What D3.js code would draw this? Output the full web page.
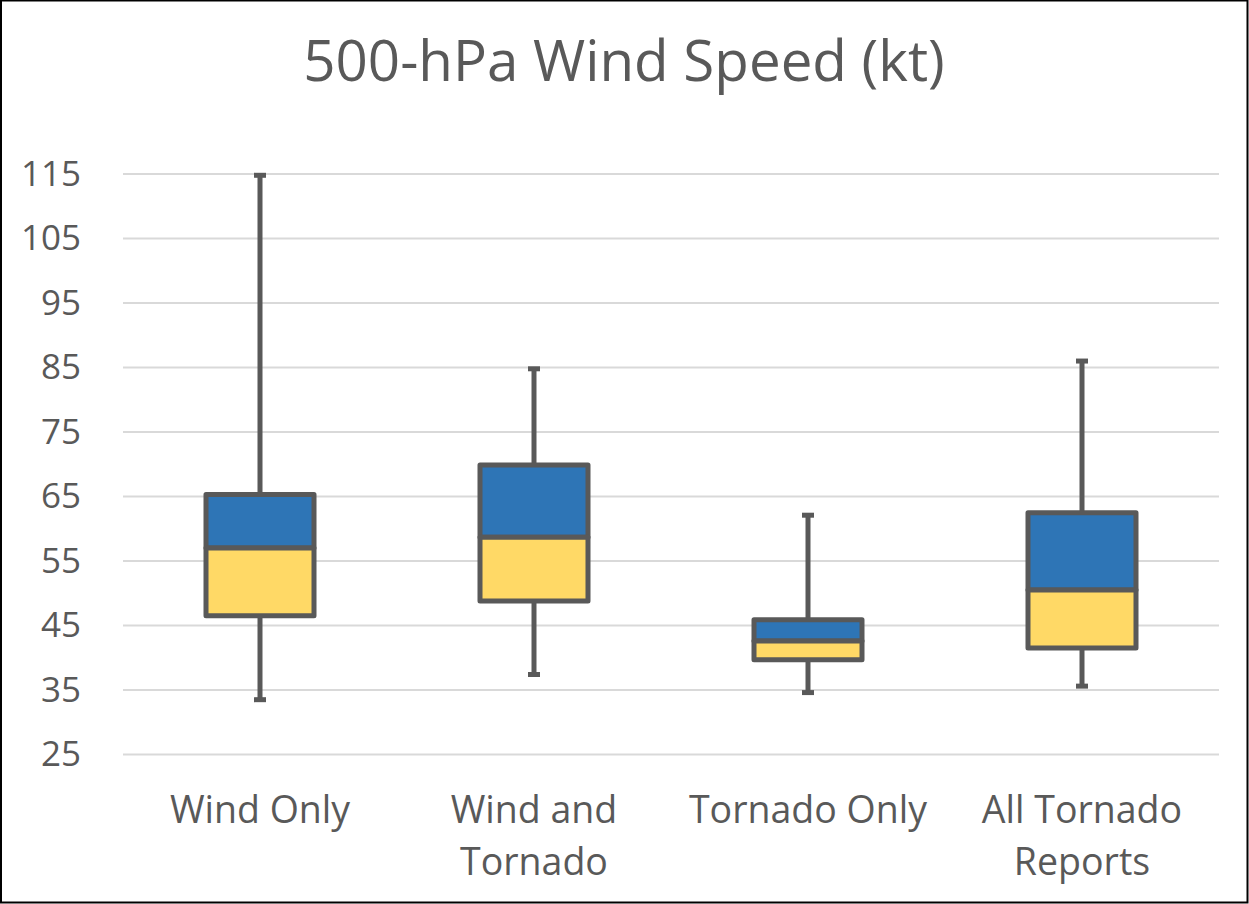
<!DOCTYPE html>
<html>
<head>
<meta charset="utf-8">
<script src="https://cdn.jsdelivr.net/npm/d3@7/dist/d3.min.js"></script>
<style>
  html, body { margin: 0; padding: 0; background: #fff; }
  svg { display: block; }
  text { font-family: "Open Sans", sans-serif; fill: #595959; }
</style>
</head>
<body>
<svg id="chart" width="1249" height="904"></svg>
<script>
// 500-hPa wind speed distributions (kt) by report type
const categories = [["Wind Only"], ["Wind and", "Tornado"], ["Tornado Only"], ["All Tornado", "Reports"]];
const whiskerMin = [33.5, 37.4, 34.6, 35.6];
const q1 = [46.5, 48.8, 39.7, 41.5];
const median = [57.0, 58.7, 42.6, 50.5];
const q3 = [65.3, 69.9, 45.9, 62.5];
const whiskerMax = [114.8, 84.8, 62.1, 86.0];
const yTicks = [25, 35, 45, 55, 65, 75, 85, 95, 105, 115];

const W = 1249, H = 904;
const margin = { left: 123, right: 30, top: 174, bottom: 149 };
const svg = d3.select("#chart");

// frame
svg.append("rect").attr("x", 1).attr("y", 0.5).attr("width", W - 2.5).attr("height", H - 2)
  .attr("fill", "#fff").attr("stroke", "#000").attr("stroke-width", 2);

const y = d3.scaleLinear().domain([25, 115]).range([H - margin.bottom - 0.5, margin.top]);
const x = d3.scaleBand().domain(d3.range(categories.length)).range([margin.left, W - margin.right]);

// gridlines
svg.append("g").selectAll("line").data(yTicks).join("line")
  .attr("x1", margin.left).attr("x2", W - margin.right)
  .attr("y1", d => y(d)).attr("y2", d => y(d))
  .attr("stroke", "#d9d9d9").attr("stroke-width", 2);

// y axis labels
const yAxis = d3.axisLeft(y).tickValues(yTicks).tickSize(0).tickPadding(0);
const gy = svg.append("g").attr("transform", "translate(81,0)").call(yAxis);
gy.select(".domain").remove();
gy.selectAll("text").attr("font-size", 35).attr("font-family", "Open Sans").attr("fill", "#595959");

// title
svg.append("text").attr("x", 624).attr("y", 81).attr("text-anchor", "middle")
  .attr("font-size", 56.5).text("500-hPa Wind Speed (kt)");

// category labels
const lab = svg.append("g").selectAll("text").data(categories).join("text")
  .attr("text-anchor", "middle").attr("font-size", 37.5)
  .attr("x", (d, i) => x(i) + x.bandwidth() / 2).attr("y", 823);
lab.selectAll("tspan").data(d => d).join("tspan")
  .attr("x", function () { return d3.select(this.parentNode).attr("x"); })
  .attr("dy", (d, j) => j === 0 ? 0 : 52).text(d => d);

// boxes
const boxW = 108, capW = 12, sw = 5, stroke = "#595959";
const g = svg.append("g").selectAll("g").data(categories).join("g")
  .attr("transform", (d, i) => `translate(${x(i) + x.bandwidth() / 2},0)`);

// whiskers
g.append("line").attr("x1", 0).attr("x2", 0)
  .attr("y1", (d, i) => y(whiskerMax[i])).attr("y2", (d, i) => y(q3[i]))
  .attr("stroke", stroke).attr("stroke-width", sw);
g.append("line").attr("x1", 0).attr("x2", 0)
  .attr("y1", (d, i) => y(q1[i])).attr("y2", (d, i) => y(whiskerMin[i]))
  .attr("stroke", stroke).attr("stroke-width", sw);
g.append("line").attr("x1", -capW / 2).attr("x2", capW / 2)
  .attr("y1", (d, i) => y(whiskerMax[i])).attr("y2", (d, i) => y(whiskerMax[i]))
  .attr("stroke", stroke).attr("stroke-width", sw);
g.append("line").attr("x1", -capW / 2).attr("x2", capW / 2)
  .attr("y1", (d, i) => y(whiskerMin[i])).attr("y2", (d, i) => y(whiskerMin[i]))
  .attr("stroke", stroke).attr("stroke-width", sw);

// upper box (median to Q3)
g.append("rect").attr("x", -boxW / 2).attr("width", boxW)
  .attr("y", (d, i) => y(q3[i])).attr("height", (d, i) => y(median[i]) - y(q3[i]))
  .attr("fill", "#2e75b6").attr("stroke", stroke).attr("stroke-width", sw).attr("stroke-linejoin", "round");
// lower box (Q1 to median)
g.append("rect").attr("x", -boxW / 2).attr("width", boxW)
  .attr("y", (d, i) => y(median[i])).attr("height", (d, i) => y(q1[i]) - y(median[i]))
  .attr("fill", "#ffd966").attr("stroke", stroke).attr("stroke-width", sw).attr("stroke-linejoin", "round");
</script>
</body>
</html>
